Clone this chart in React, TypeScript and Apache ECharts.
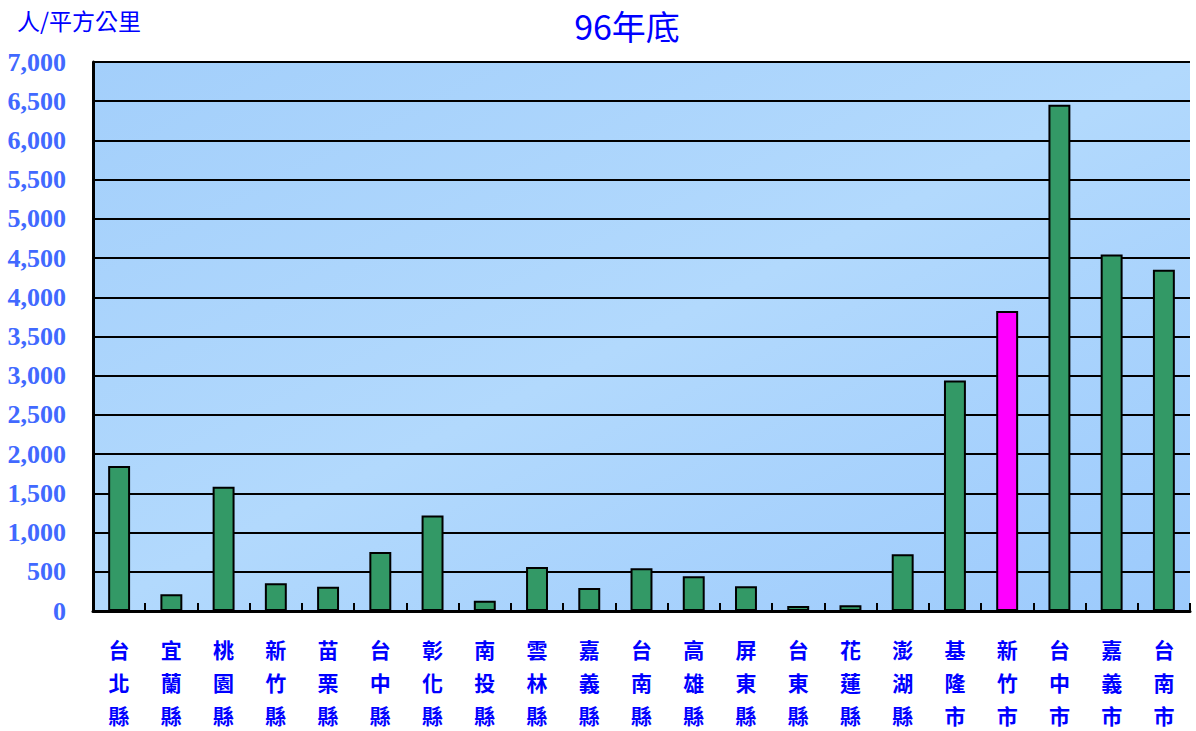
import React, { useEffect, useRef } from "react";
import * as echarts from "echarts";

const categories = [
  "台北縣", "宜蘭縣", "桃園縣", "新竹縣", "苗栗縣", "台中縣", "彰化縣", "南投縣",
  "雲林縣", "嘉義縣", "台南縣", "高雄縣", "屏東縣", "台東縣", "花蓮縣", "澎湖縣",
  "基隆市", "新竹市", "台中市", "嘉義市", "台南市",
];
const densities = [
  1850, 215, 1585, 355, 308, 752, 1217, 131, 562, 292, 545, 444, 317, 63, 72, 723,
  2940, 3826, 6455, 4544, 4350,
];
const highlightCategory = "新竹市";
const yTicks = [0, 7000, 500];
const titleText = "96年底";
const unitText = "人/平方公里";

export default function App() {
  const ref = useRef<HTMLDivElement>(null);
  useEffect(() => {
    if (!ref.current) return;
    const chart = echarts.init(ref.current, undefined, { renderer: "svg" });
    chart.setOption({
      animation: false,
      backgroundColor: "#ffffff",
      title: {
        text: titleText,
        left: 622,
        textAlign: "center",
        top: 3,
        textStyle: {
          color: "#0000ff",
          fontSize: 34,
          fontWeight: "normal",
          fontFamily: "'Noto Sans CJK TC', 'Liberation Serif', serif",
        },
      },
      graphic: [
        {
          type: "text",
          left: 17,
          top: 8,
          style: {
            text: unitText,
            fill: "#0000ff",
            fontSize: 23,
            fontFamily: "'Noto Sans CJK TC', sans-serif",
          },
        },
      ],
      grid: {
        left: 93,
        right: 6,
        top: 62,
        bottom: 116,
        show: true,
        borderWidth: 0,
        backgroundColor: new echarts.graphic.LinearGradient(0, 0, 1, 1, [
          { offset: 0, color: "#a3cffb" },
          { offset: 0.5, color: "#b2d9fd" },
          { offset: 1, color: "#9ccafc" },
        ]),
      },
      xAxis: {
        type: "category",
        data: categories,
        axisLine: { lineStyle: { color: "#000", width: 3 } },
        axisTick: { show: true, inside: true, length: 8, lineStyle: { color: "#000", width: 2 } },
        axisLabel: {
          interval: 0,
          margin: 21,
          color: "#0000ff",
          fontSize: 21,
          fontWeight: "bold",
          lineHeight: 33,
          fontFamily: "'Noto Sans CJK TC', sans-serif",
          formatter: (v: string) => v.split("").join("\n"),
        },
      },
      yAxis: {
        type: "value",
        min: yTicks[0],
        max: yTicks[1],
        interval: yTicks[2],
        axisLine: { show: true, lineStyle: { color: "#000", width: 3 } },
        axisTick: { show: true, inside: true, length: 6, lineStyle: { color: "#000", width: 2 } },
        splitLine: { show: true, lineStyle: { color: "#000", width: 2 } },
        axisLabel: {
          margin: 27,
          color: "#4169ff",
          fontSize: 26,
          fontWeight: "bold",
          fontFamily: "'Liberation Serif', 'Times New Roman', serif",
          formatter: (v: number) => v.toLocaleString("en-US"),
        },
      },
      series: [
        {
          type: "bar",
          barWidth: "42%",
          data: densities.map((v, i) => ({
            value: v,
            itemStyle: {
              color: categories[i] === highlightCategory ? "#ff00ff" : "#339966",
            },
          })),
          itemStyle: { borderColor: "#000", borderWidth: 2 },
        },
      ],
    });
    return () => chart.dispose();
  }, []);
  return (
    <div
      ref={ref}
      style={{ position: "absolute", left: 0, top: 0, width: 1196, height: 731 }}
    />
  );
}
